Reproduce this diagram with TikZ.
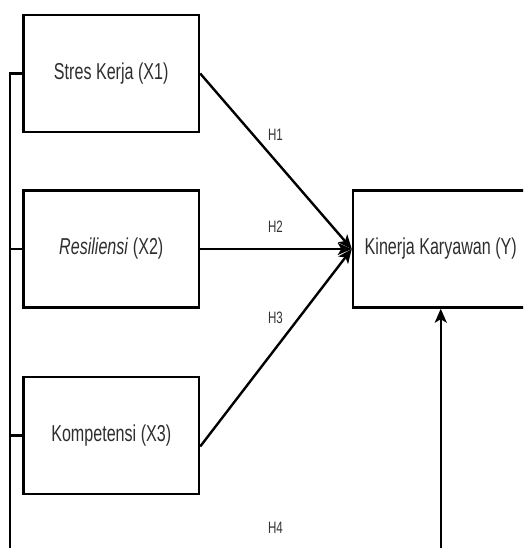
\documentclass[tikz,border=0pt]{standalone}
\usepackage{fontspec}
\setmainfont{Liberation Sans}[FakeStretch=0.7]
\usetikzlibrary{arrows.meta}
\begin{document}
\begin{tikzpicture}[x=1pt,y=-1pt,
  var/.style={draw, line width=2.4pt, minimum width=175.5pt, minimum height=117pt,
    inner sep=0pt, font=\fontsize{23}{26}\selectfont, text=black!82},
  hyp/.style={font=\fontsize{16.5}{19}\selectfont, text=black!80, inner sep=0pt},
  link/.style={line width=2.4pt, -{Stealth[length=14pt,width=12pt,inset=3.5pt]}},
  bus/.style={line width=2.2pt}]
\clip (0,0) rectangle (523,548);
\useasboundingbox (0,0) rectangle (523,548);

% independent variables
\node[var] (x1) at (111.25,73.5) {Stres Kerja (X1)};
\node[var] (x2) at (111.25,249) {\textit{Resiliensi} (X2)};
\node[var] (x3) at (111.25,435.5) {Kompetensi (X3)};

% dependent variable
\node[var] (y) at (440.75,249) {Kinerja Karyawan (Y)};

% moderating bus on the left and the link from below
\coordinate (busend) at (10,570);
\coordinate (ybottom) at (440.75,570);

\draw[bus] (x1.west) -| (busend);
\draw[bus] (x2.west) -- (x2.west -| busend);
\draw[bus] (x3.west) -- (x3.west -| busend);

% hypothesis paths
\draw[link] (x1.east) -- (y.west);
\draw[link] (x2.east) -- (y.west);
\draw[link] ([yshift=-11pt]x3.east) -- (y.west);
\draw[link] (ybottom) -- (y.south);

% hypothesis labels
\node[hyp] (h1) at (275.5,135) {H1};
\node[hyp] (h2) at (275.5,227) {H2};
\node[hyp] (h3) at (275.5,318) {H3};
\node[hyp] (h4) at (275.5,528) {H4};
\end{tikzpicture}
\end{document}
